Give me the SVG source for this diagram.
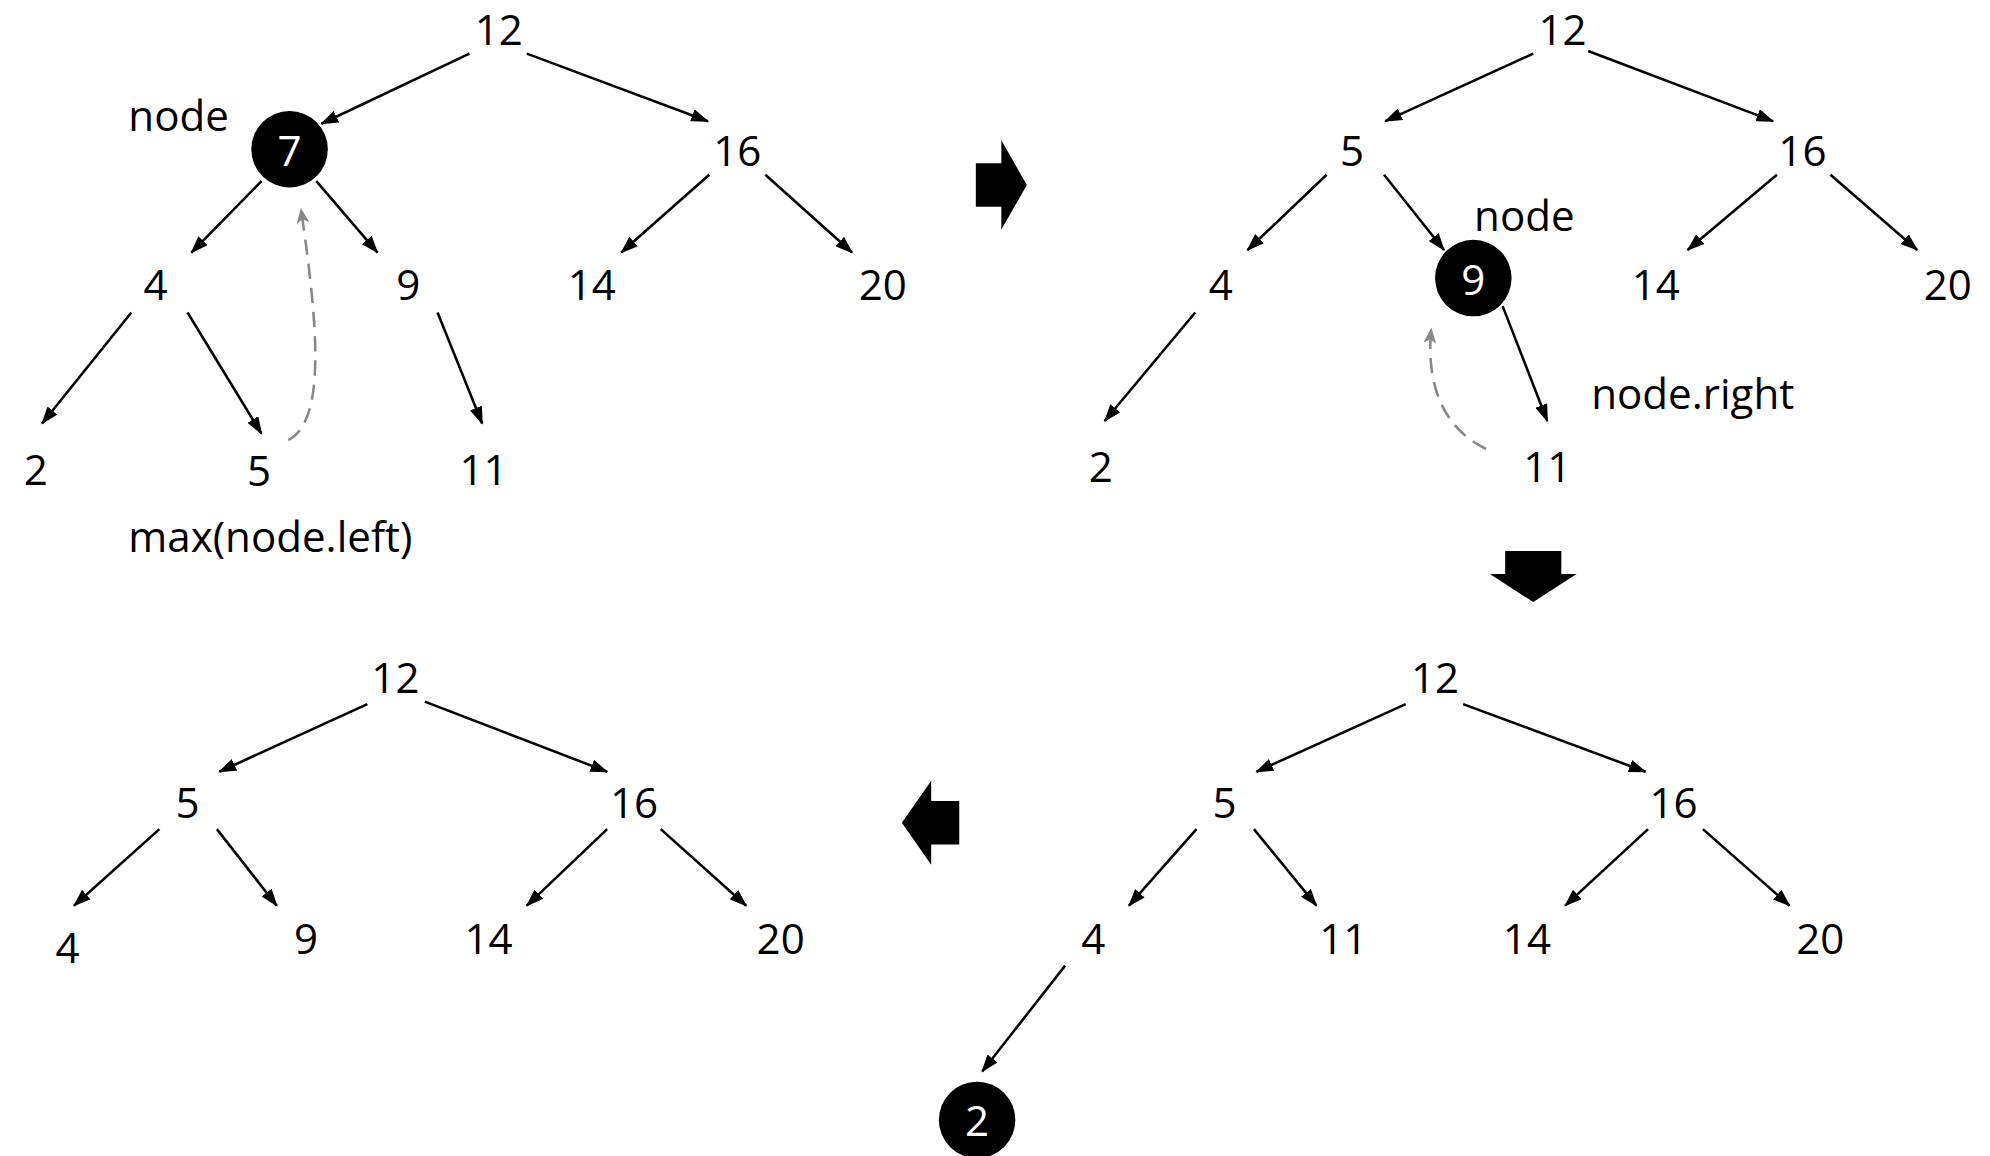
<svg xmlns="http://www.w3.org/2000/svg" width="1990" height="1156" viewBox="0 0 1990 1156">
<defs>
<marker id="ah" markerWidth="14" markerHeight="10" refX="13" refY="5" orient="auto" markerUnits="userSpaceOnUse"><path d="M0,0 L14,5 L0,10 Z" fill="#000"/></marker>
<marker id="ag" markerWidth="12" markerHeight="10" refX="11" refY="5" orient="auto" markerUnits="userSpaceOnUse"><path d="M0,0 L12,5 L0,10 L3,5 Z" fill="#888"/></marker>
<style>
text{font-family:"Open Sans","Liberation Sans",sans-serif;font-size:33px;text-anchor:middle;dominant-baseline:central;fill:#000}
.w{fill:#fff}
.e line{stroke:#000;stroke-width:2;marker-end:url(#ah)}
.d{stroke:#888;stroke-width:2;fill:none;stroke-dasharray:12,7;marker-end:url(#ag)}
</style>
</defs>
<rect width="1990" height="1156" fill="#fff"/>
<g transform="scale(1.2756)">
<g class="e" id="connectors">
<line x1="368" y1="42" x2="252" y2="97"/><line x1="413" y1="42" x2="555" y2="95"/>
<line x1="205" y1="142" x2="150" y2="198"/><line x1="248" y1="142" x2="296" y2="198"/>
<line x1="103" y1="245" x2="33" y2="332"/><line x1="147" y1="245" x2="205" y2="340"/>
<line x1="343" y1="245" x2="378" y2="332"/><line x1="556" y1="137" x2="487" y2="198"/>
<line x1="600" y1="137" x2="668" y2="198"/>
<path class="d" d="M226,345 C255,330 250,260 236,164"/>
<line x1="1202" y1="42" x2="1086" y2="95"/><line x1="1245" y1="40" x2="1390" y2="95"/>
<line x1="1040" y1="137" x2="978" y2="196"/><line x1="1085" y1="137" x2="1132" y2="196"/>
<line x1="937" y1="245" x2="866" y2="330"/><line x1="1178" y1="240" x2="1213" y2="330"/>
<line x1="1393" y1="137" x2="1323" y2="196"/><line x1="1435" y1="137" x2="1503" y2="196"/>
<path class="d" d="M1165,352 C1130,335 1118,300 1122,258"/>
<line x1="1102" y1="552" x2="985" y2="605"/><line x1="1147" y1="552" x2="1290" y2="605"/>
<line x1="938" y1="650" x2="885" y2="710"/><line x1="983" y1="650" x2="1032" y2="710"/>
<line x1="1292" y1="650" x2="1227" y2="710"/><line x1="1335" y1="650" x2="1403" y2="710"/>
<line x1="835" y1="757" x2="770" y2="840"/>
<line x1="288" y1="552" x2="172" y2="605"/><line x1="333" y1="550" x2="476" y2="605"/>
<line x1="125" y1="650" x2="58" y2="710"/><line x1="170" y1="650" x2="217" y2="710"/>
<line x1="476" y1="650" x2="413" y2="710"/><line x1="518" y1="650" x2="585" y2="710"/>
</g>
<g id="arrows" fill="#000">
<polygon points="765,128 785,128 785,110 805,145 785,180 785,162 765,162"/>
<polygon points="1180,432 1224,432 1224,450 1236,450 1202,472 1168,450 1180,450"/>
<polygon points="752,628 730,628 730,612 707,645 730,678 730,662 752,662"/>
</g>
<g id="t1">
<g id="n1_12"><text x="391" y="22">12</text></g>
<g id="n1_7"><circle cx="227" cy="117" r="30"/><text class="w" x="227" y="117">7</text></g>
<g id="n1_16"><text x="578" y="117">16</text></g>
<g id="n1_4"><text x="122" y="222">4</text></g>
<g id="n1_9"><text x="320" y="222">9</text></g>
<g id="n1_14"><text x="464" y="222">14</text></g>
<g id="n1_20"><text x="692" y="222">20</text></g>
<g id="n1_2"><text x="28" y="367">2</text></g>
<g id="n1_5"><text x="203" y="368">5</text></g>
<g id="n1_11"><text x="379" y="367">11</text></g>
<text x="140" y="90">node</text>
<text x="212" y="420">max(node.left)</text>
</g>
<g id="t2">
<g id="n2_12"><text x="1225" y="22">12</text></g>
<g id="n2_5"><text x="1060" y="117">5</text></g>
<g id="n2_16"><text x="1413" y="117">16</text></g>
<g id="n2_4"><text x="957" y="222">4</text></g>
<g id="n2_9"><circle cx="1155" cy="218" r="30"/><text class="w" x="1155" y="218">9</text></g>
<g id="n2_14"><text x="1298" y="222">14</text></g>
<g id="n2_20"><text x="1527" y="222">20</text></g>
<g id="n2_2"><text x="863" y="365">2</text></g>
<g id="n2_11"><text x="1213" y="365">11</text></g>
<text x="1195" y="168">node</text>
<text x="1327" y="308">node.right</text>
</g>
<g id="t3">
<g id="n3_12"><text x="1125" y="530">12</text></g>
<g id="n3_5"><text x="960" y="628">5</text></g>
<g id="n3_16"><text x="1312" y="628">16</text></g>
<g id="n3_4"><text x="857" y="735">4</text></g>
<g id="n3_11"><text x="1053" y="735">11</text></g>
<g id="n3_14"><text x="1197" y="735">14</text></g>
<g id="n3_20"><text x="1427" y="735">20</text></g>
<g id="n3_2"><circle cx="766" cy="878" r="30"/><text class="w" x="766" y="878">2</text></g>
</g>
<g id="t4">
<g id="n4_12"><text x="310" y="530">12</text></g>
<g id="n4_5"><text x="147" y="628">5</text></g>
<g id="n4_16"><text x="497" y="628">16</text></g>
<g id="n4_4"><text x="53" y="742">4</text></g>
<g id="n4_9"><text x="240" y="735">9</text></g>
<g id="n4_14"><text x="383" y="735">14</text></g>
<g id="n4_20"><text x="612" y="735">20</text></g>
</g>
</g>
</svg>
